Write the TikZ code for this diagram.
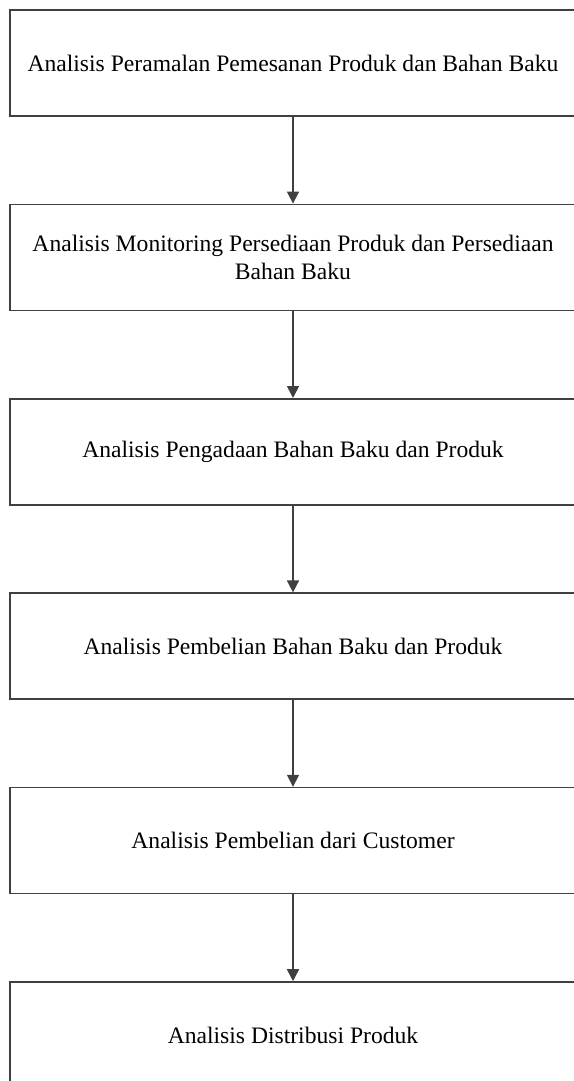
\documentclass[tikz,border=0pt]{standalone}
\usepackage{fontspec}
\setmainfont{Liberation Serif}
\usetikzlibrary{positioning,arrows.meta}

\begin{document}
\begin{tikzpicture}[
    box/.style={rectangle,draw=black!75,line width=0.8pt,minimum width=283pt,
        minimum height=53pt,align=center,font=\fontsize{11.8}{14}\selectfont},
    flow/.style={draw=black!75,line width=0.8pt,-{Triangle[width=6pt,length=6pt]}},
    node distance=43.4pt]

    \useasboundingbox (0,0) rectangle (286.5pt,-540.5pt);

    \node[box] (ramal) at (146.5pt,-31.5pt) {Analisis Peramalan Pemesanan Produk dan Bahan Baku};
    \node[box,below=of ramal] (monitor) {Analisis Monitoring Persediaan Produk dan Persediaan\\Bahan Baku};
    \node[box,below=of monitor] (adaan) {Analisis Pengadaan Bahan Baku dan Produk};
    \node[box,below=of adaan] (beli) {Analisis Pembelian Bahan Baku dan Produk};
    \node[box,below=of beli] (cust) {Analisis Pembelian dari Customer};
    \node[box,below=of cust] (distr) {Analisis Distribusi Produk};

    \draw[flow] (ramal) -- (monitor);
    \draw[flow] (monitor) -- (adaan);
    \draw[flow] (adaan) -- (beli);
    \draw[flow] (beli) -- (cust);
    \draw[flow] (cust) -- (distr);

\end{tikzpicture}
\end{document}
